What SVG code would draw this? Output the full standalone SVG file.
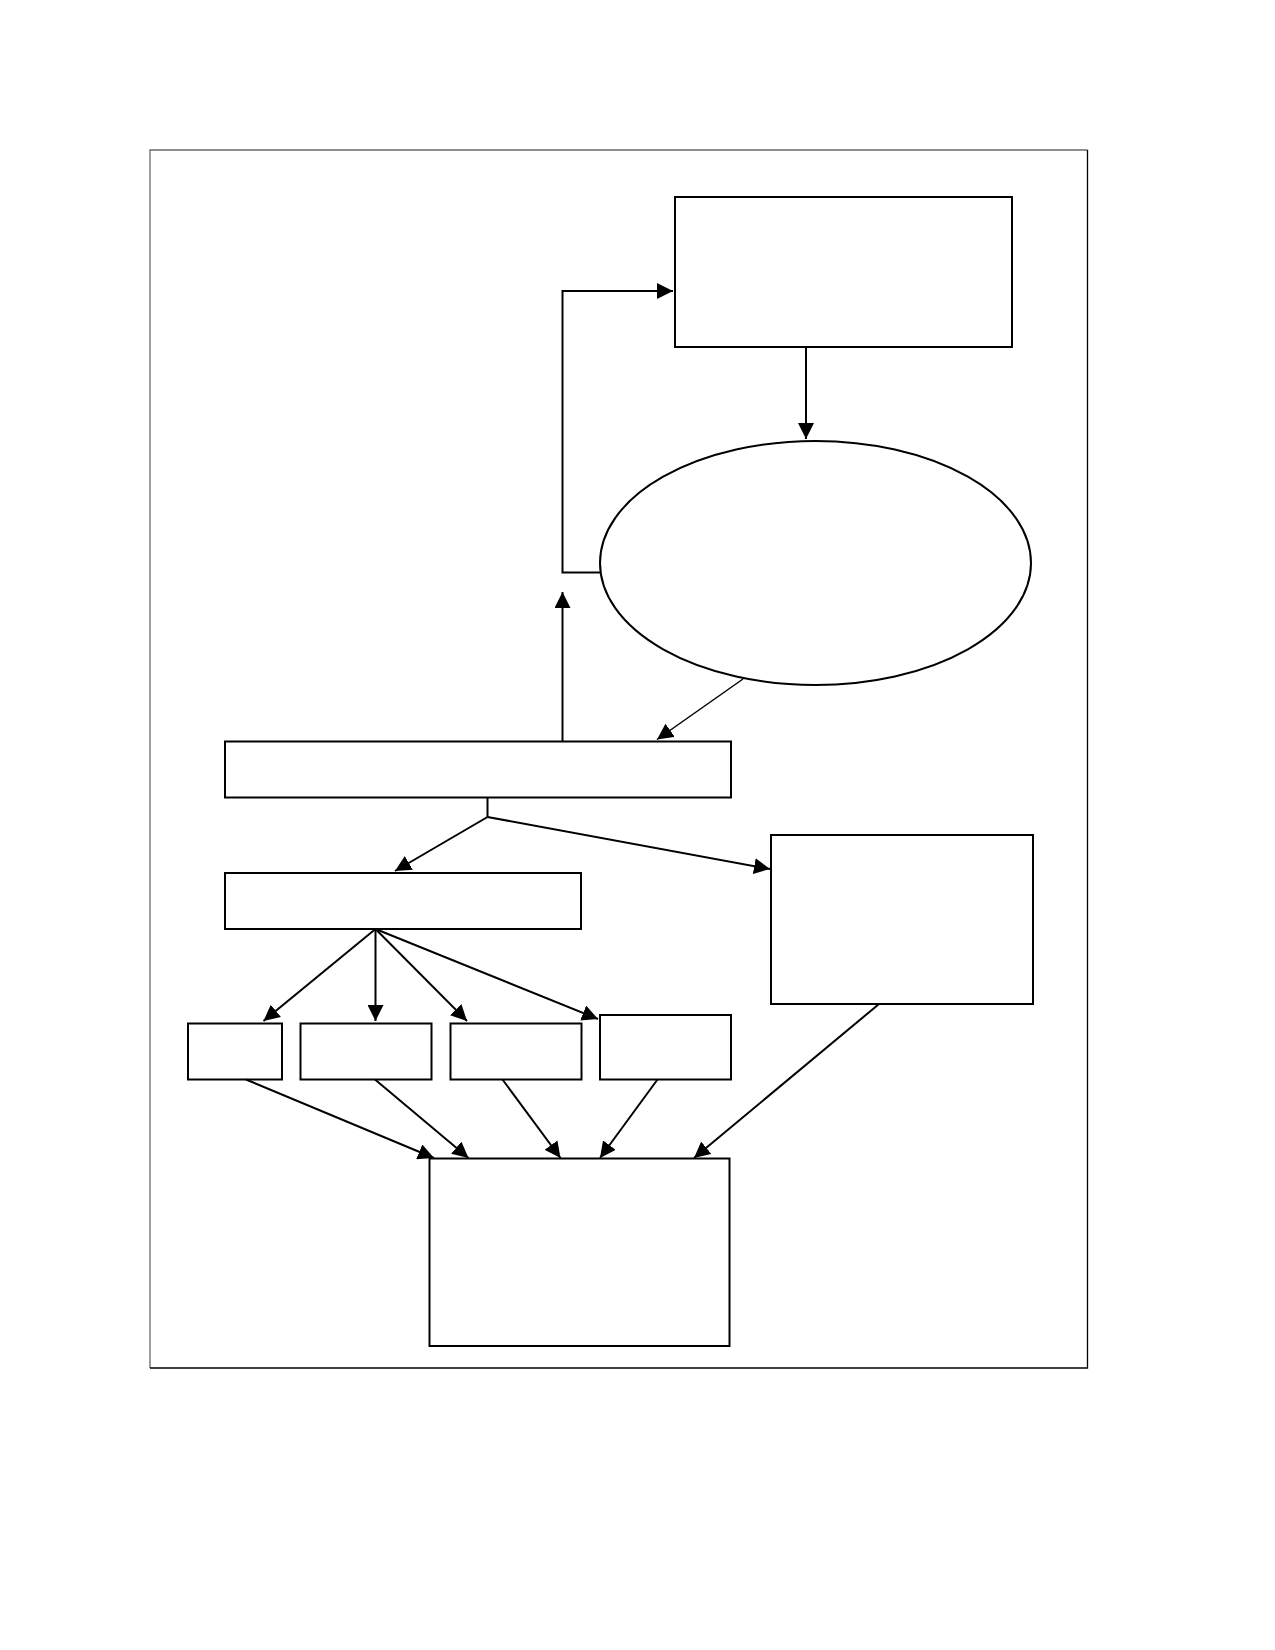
<svg xmlns="http://www.w3.org/2000/svg" width="1275" height="1650" viewBox="0 0 1275 1650">
<style>
.frame{fill:none;stroke-width:1.3}
.node{fill:#fff;stroke:#000;stroke-width:2}
.edge{fill:none;stroke:#000;stroke-width:2}
.thin{stroke-width:1.5}
</style>
<defs>
<marker id="ah" markerUnits="userSpaceOnUse" markerWidth="17" markerHeight="16" refX="16" refY="8" orient="auto" viewBox="0 0 17 16">
<path d="M0,0 L16,8 L0,16 z" fill="#000"/>
</marker>
</defs>
<rect width="1275" height="1650" fill="#fff"/>
<path class="frame" stroke="#6a6a6a" d="M150,1368 V150 H1087.5"/>
<path class="frame" stroke="#000" d="M1087.5,150 V1368 H150"/>
<g id="nodes">
<g id="top-box"><rect class="node" x="675" y="197" width="337" height="150"/></g>
<g id="ellipse"><ellipse class="node" cx="815.5" cy="563" rx="215.5" ry="122"/></g>
<g id="main-box"><rect class="node" x="225" y="741.5" width="506" height="56"/></g>
<g id="second-box"><rect class="node" x="225" y="873" width="356" height="56"/></g>
<g id="right-box"><rect class="node" x="771" y="835" width="262" height="169"/></g>
<g id="box-a"><rect class="node" x="188" y="1023.5" width="94" height="56"/></g>
<g id="box-b"><rect class="node" x="300.5" y="1023.5" width="131" height="56"/></g>
<g id="box-c"><rect class="node" x="450.5" y="1023.5" width="131" height="56"/></g>
<g id="box-d"><rect class="node" x="600" y="1015" width="131" height="64.5"/></g>
<g id="bottom-box"><rect class="node" x="429.5" y="1158.5" width="300" height="187.5"/></g>
</g>
<g id="connectors">
<polyline class="edge" points="600,572.5 562.5,572.5 562.5,291 673,291" marker-end="url(#ah)"/>
<line class="edge" x1="806" y1="347" x2="806" y2="439" marker-end="url(#ah)"/>
<line class="edge" x1="562.5" y1="741.5" x2="562.5" y2="592" marker-end="url(#ah)"/>
<line class="edge thin" x1="743" y1="679" x2="657" y2="739.5" marker-end="url(#ah)"/>
<line class="edge" x1="487.5" y1="797.5" x2="487.5" y2="817"/>
<line class="edge" x1="487.5" y1="817" x2="395" y2="871" marker-end="url(#ah)"/>
<line class="edge" x1="487.5" y1="817" x2="770" y2="869" marker-end="url(#ah)"/>
<line class="edge" x1="375.5" y1="929" x2="263.5" y2="1021" marker-end="url(#ah)"/>
<line class="edge" x1="375.5" y1="929" x2="375.5" y2="1021" marker-end="url(#ah)"/>
<line class="edge" x1="375.5" y1="929" x2="467" y2="1021" marker-end="url(#ah)"/>
<line class="edge" x1="375.5" y1="929" x2="598" y2="1019" marker-end="url(#ah)"/>
<line class="edge" x1="246" y1="1079.5" x2="434" y2="1158" marker-end="url(#ah)"/>
<line class="edge" x1="375" y1="1079.5" x2="468.5" y2="1158" marker-end="url(#ah)"/>
<line class="edge" x1="502.5" y1="1079.5" x2="560.5" y2="1158" marker-end="url(#ah)"/>
<line class="edge" x1="657.5" y1="1079.5" x2="600" y2="1158" marker-end="url(#ah)"/>
<line class="edge" x1="879" y1="1004" x2="694" y2="1158" marker-end="url(#ah)"/>
</g>
</svg>
